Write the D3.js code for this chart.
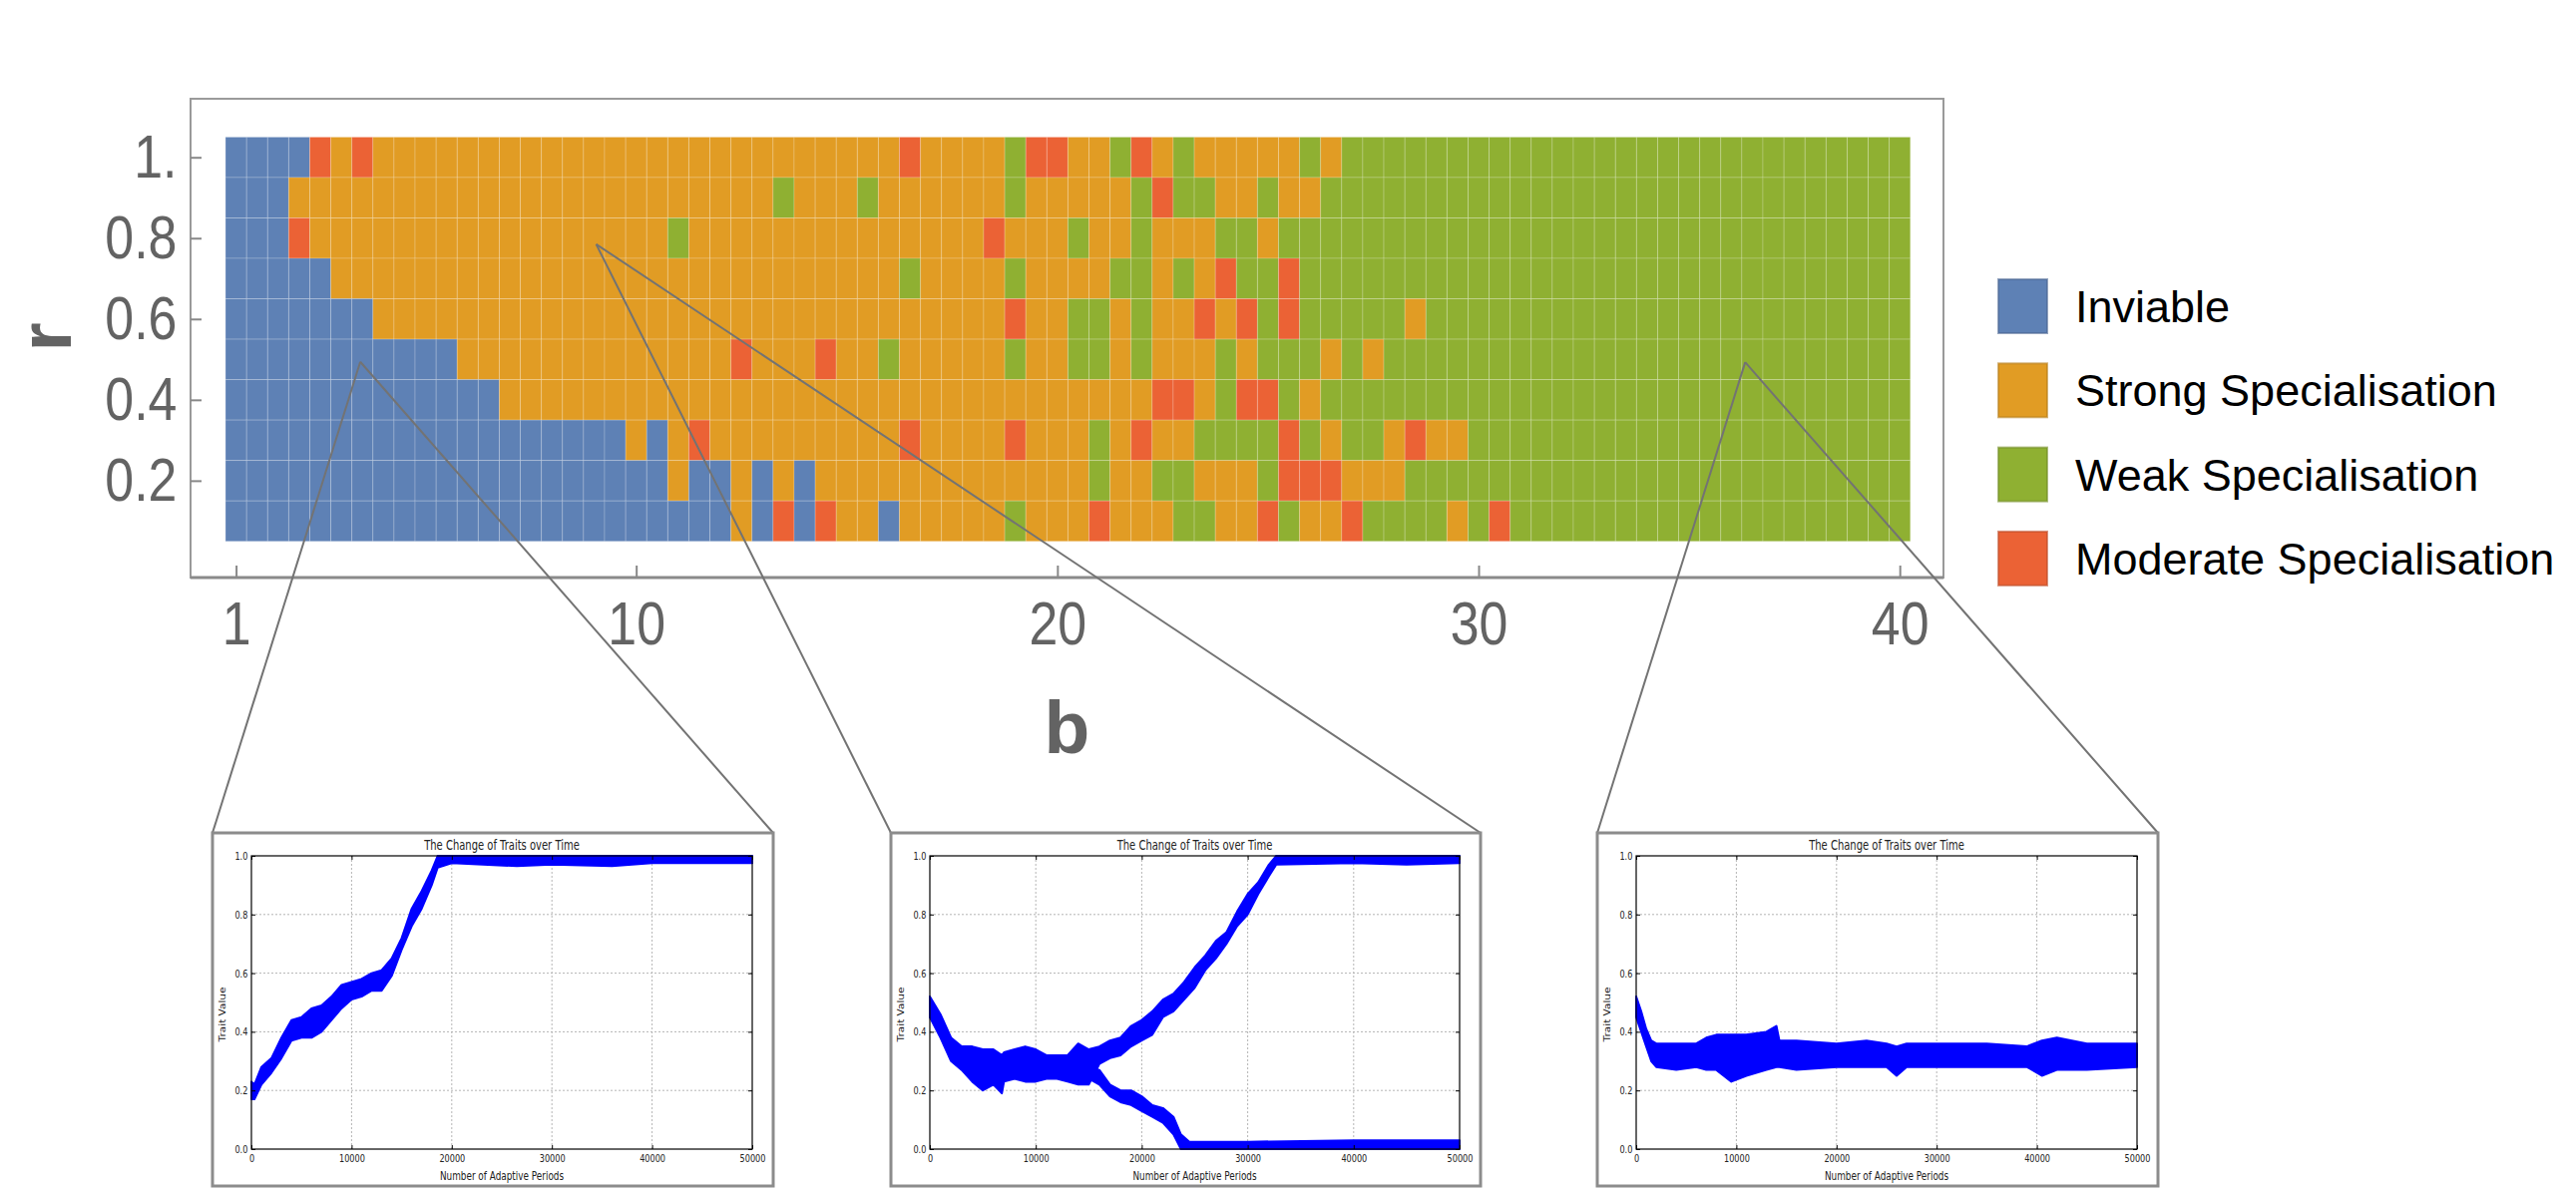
<!DOCTYPE html>
<html>
<head>
<meta charset="utf-8">
<script src="https://cdn.jsdelivr.net/npm/d3@7"></script>
<style>
  body { margin: 0; background: #fff; }
  svg { display: block; }
</style>
</head>
<body>
<svg width="2582" height="1192"></svg>
<script>
// Categories and colours (Mathematica default palette)
var categories = ["Inviable", "Strong Specialisation", "Weak Specialisation", "Moderate Specialisation"];
var codes = ["I", "S", "W", "M"];
var colors = ["#5E81B5", "#E19C24", "#8FB032", "#EB6235"];

// Parameter grid: b in steps of 0.5 up to 40 (80 columns), r from 1.0 down to 0.1
var bMin = 0.5, bMax = 40, nCols = 80;
var rValues = [1.0, 0.9, 0.8, 0.7, 0.6, 0.5, 0.4, 0.3, 0.2, 0.1];

// Outcome per row, run-length encoded (code + run length), read left to right
var gridRows = [
  "I4 M1 S1 M1 S25 M1 S4 W1 M2 S2 W1 M1 S1 W1 S5 W1 S1 W27",
  "I3 S23 W1 S3 W1 S6 W1 S5 W1 M1 W2 S2 W1 S2 W28",
  "I3 M1 S17 W1 S14 M1 S3 W1 S2 W1 S3 W2 S1 W30",
  "I5 S27 W1 S4 W1 S4 W2 S1 W1 S1 M1 W2 M1 W29",
  "I7 S30 M1 S2 W2 S1 W1 S2 M1 S1 M1 W1 M1 W5 S1 W23",
  "I11 S13 M1 S3 M1 S2 W1 S5 W1 S2 W2 S1 W1 S3 W1 S1 W3 S1 W1 S1 W25",
  "I13 S31 M2 S1 W1 M2 W1 S1 W28",
  "I19 S1 I1 S1 M1 S9 M1 S4 M1 S3 W1 S1 M1 S2 W4 M1 W1 S1 W2 S1 M1 S2 W21",
  "I21 S1 I2 S1 I1 S1 I1 S13 W1 S2 W2 S3 W1 M3 S3 W24",
  "I24 S1 I1 M1 I1 M1 S2 I1 S5 W1 S3 M1 S3 W2 S2 M1 W1 S2 M1 W4 S1 W1 M1 W19"
];

// Frame ticks: the first one sits on the first column but is labelled "1"
var bTicks = [0.5, 10, 20, 30, 40];
var bTickLabels = ["1", "10", "20", "30", "40"];
var rTicks = [0.2, 0.4, 0.6, 0.8, 1.0];
var rTickLabels = ["0.2", "0.4", "0.6", "0.8", "1."];

// Points in the (b, r) plane that the three insets zoom in on
var zoomB = [3.45, 9.05, 36.33];
var zoomR = [0.494, 0.785, 0.493];

// Inset time series: trait value bands (lower / upper edge) over adaptive periods
var periodTicks = [0, 10000, 20000, 30000, 40000, 50000];
var traitTicks = [0.0, 0.2, 0.4, 0.6, 0.8, 1.0];

var leftPeriods = [0, 300, 1000, 2000, 3000, 4000, 5000, 6000, 7000, 8000, 9000, 10000, 11000, 12000, 13000, 14000, 15000, 16000, 17000, 18000, 18600, 20000, 26500, 30000, 36000, 40000, 45000, 50000];
var leftUpper   = [0.23, 0.22, 0.28, 0.31, 0.38, 0.44, 0.45, 0.48, 0.49, 0.52, 0.56, 0.57, 0.58, 0.60, 0.61, 0.65, 0.72, 0.82, 0.88, 0.95, 1.0, 1.0, 1.0, 1.0, 1.0, 1.0, 1.0, 1.0];
var leftLower   = [0.17, 0.17, 0.22, 0.26, 0.31, 0.37, 0.38, 0.38, 0.40, 0.44, 0.48, 0.51, 0.52, 0.54, 0.54, 0.59, 0.68, 0.76, 0.82, 0.90, 0.96, 0.975, 0.965, 0.97, 0.965, 0.975, 0.975, 0.975];

var midPeriods = [0, 1000, 2000, 3000, 4000, 5000, 6000, 6800, 7000, 8000, 9000, 10000, 11000, 12000, 13000, 14000, 15000, 16000, 17000, 18000, 19000, 20000, 21000, 22000, 23000, 24000, 25000, 26000, 27000, 28000, 29000, 30000, 31000, 32000, 32700, 40000, 45000, 50000];
var midUpper   = [0.52, 0.46, 0.38, 0.35, 0.35, 0.34, 0.34, 0.32, 0.33, 0.34, 0.35, 0.34, 0.32, 0.32, 0.32, 0.36, 0.34, 0.35, 0.37, 0.38, 0.42, 0.44, 0.47, 0.51, 0.53, 0.57, 0.62, 0.66, 0.71, 0.74, 0.81, 0.87, 0.91, 0.97, 1.0, 1.0, 1.0, 1.0];
var midLower   = [0.45, 0.38, 0.30, 0.27, 0.23, 0.20, 0.22, 0.19, 0.23, 0.24, 0.23, 0.23, 0.24, 0.24, 0.23, 0.22, 0.22, 0.29, 0.31, 0.32, 0.35, 0.37, 0.39, 0.45, 0.47, 0.51, 0.55, 0.61, 0.65, 0.70, 0.76, 0.80, 0.87, 0.93, 0.97, 0.975, 0.97, 0.975];

var mid2Periods = [15000, 16000, 17000, 18000, 19000, 20000, 21000, 22000, 23000, 23700, 24500, 30000, 40000, 50000];
var mid2Upper   = [0.28, 0.27, 0.22, 0.20, 0.20, 0.18, 0.15, 0.14, 0.11, 0.05, 0.025, 0.025, 0.03, 0.03];
var mid2Lower   = [0.24, 0.22, 0.18, 0.16, 0.15, 0.13, 0.11, 0.09, 0.05, 0.0, 0.0, 0.0, 0.0, 0.0];

var rightPeriods = [0, 500, 1000, 1500, 2000, 4000, 6000, 7000, 8000, 9500, 11000, 13000, 14000, 14300, 16000, 20000, 23000, 25000, 26000, 27000, 30000, 35000, 39000, 40500, 42000, 45000, 50000];
var rightUpper   = [0.52, 0.47, 0.41, 0.37, 0.36, 0.36, 0.36, 0.38, 0.39, 0.39, 0.39, 0.40, 0.42, 0.37, 0.37, 0.36, 0.37, 0.36, 0.35, 0.36, 0.36, 0.36, 0.35, 0.37, 0.38, 0.36, 0.36];
var rightLower   = [0.45, 0.40, 0.35, 0.30, 0.28, 0.27, 0.28, 0.27, 0.27, 0.23, 0.25, 0.27, 0.28, 0.28, 0.27, 0.28, 0.28, 0.28, 0.25, 0.28, 0.28, 0.28, 0.28, 0.25, 0.27, 0.27, 0.28];

// The svg
var svg = d3.select("svg"),
  width = +svg.attr("width"),
  height = +svg.attr("height");

svg.append("rect").attr("width", width).attr("height", height).attr("fill", "#fff");

// Scales of the main plot
var bStep = (bMax - bMin) / (nCols - 1);
var bValues = d3.range(nCols).map(function(i) { return bMin + i * bStep; });
var x = d3.scaleLinear().domain([bMin, bMax]).range([236.6, 1904.2]);
var y = d3.scaleLinear().domain([0.1, 1.0]).range([522.4, 157.7]);
var color = d3.scaleOrdinal().domain(codes).range(colors);

function expand(rle) {
  var out = [];
  rle.split(" ").forEach(function(t) {
    var c = t[0], n = +t.slice(1);
    for (var k = 0; k < n; k++) out.push(c);
  });
  return out;
}

var cells = [];
gridRows.forEach(function(row, i) {
  expand(row).forEach(function(c, j) {
    cells.push({ b: bValues[j], r: rValues[i], code: c });
  });
});

// Frame
var frame = { x0: 191, y0: 99, x1: 1948, y1: 579 };
svg.append("rect")
  .attr("x", frame.x0).attr("y", frame.y0)
  .attr("width", frame.x1 - frame.x0).attr("height", frame.y1 - frame.y0)
  .attr("fill", "none").attr("stroke", "#9a9a9a").attr("stroke-width", 2);

// Heatmap cells
svg.append("g")
  .selectAll("rect")
  .data(cells)
  .enter()
  .append("rect")
    .attr("x", function(d) { return x(d.b - bStep / 2); })
    .attr("y", function(d) { return y(d.r + 0.05); })
    .attr("width", function(d) { return x(d.b + bStep / 2) - x(d.b - bStep / 2); })
    .attr("height", function(d) { return y(d.r - 0.05) - y(d.r + 0.05); })
    .attr("fill", function(d) { return color(d.code); })
    .attr("stroke", "rgba(255,255,255,0.2)")
    .attr("stroke-width", 1);

// Axes
var xAxis = svg.append("g")
  .attr("transform", "translate(0," + frame.y1 + ")")
  .call(d3.axisBottom(x).tickValues(bTicks)
    .tickFormat(function(d, i) { return bTickLabels[i]; })
    .tickSizeInner(-12).tickSizeOuter(0).tickPadding(24));

var yAxis = svg.append("g")
  .attr("transform", "translate(" + frame.x0 + ",0)")
  .call(d3.axisLeft(y).tickValues(rTicks)
    .tickFormat(function(d, i) { return rTickLabels[i]; })
    .tickSizeInner(-11).tickSizeOuter(0).tickPadding(16));

[xAxis, yAxis].forEach(function(g) {
  g.select(".domain").remove();
  g.selectAll(".tick line").attr("stroke", "#888").attr("stroke-width", 2);
  g.selectAll(".tick text")
    .attr("fill", "#636363")
    .style("font-family", "'Liberation Sans', Arial, sans-serif")
    .style("font-size", "61px")
    .attr("transform", "scale(0.85,1)");
});

svg.append("line")
  .attr("x1", frame.x0).attr("x2", frame.x1)
  .attr("y1", frame.y1).attr("y2", frame.y1)
  .attr("stroke", "#8a8a8a").attr("stroke-width", 3);

svg.append("text")
  .attr("x", (frame.x0 + frame.x1) / 2)
  .attr("y", 755)
  .attr("text-anchor", "middle")
  .attr("fill", "#636363")
  .style("font-family", "'Liberation Sans', Arial, sans-serif")
  .style("font-weight", "bold")
  .style("font-size", "75px")
  .text("b");

svg.append("text")
  .attr("transform", "translate(71,338) rotate(-90)")
  .attr("text-anchor", "middle")
  .attr("fill", "#636363")
  .style("font-family", "'Liberation Sans', Arial, sans-serif")
  .style("font-weight", "bold")
  .style("font-size", "75px")
  .text("r");

// Legend
var legend = svg.append("g").attr("id", "legend");
var legendEntry = legend.selectAll("g")
  .data(categories)
  .enter().append("g")
  .attr("transform", function(d, i) { return "translate(2003," + (280 + i * 84.3) + ")"; });

legendEntry.append("rect")
  .attr("width", 49).attr("height", 54)
  .attr("fill", function(d, i) { return colors[i]; })
  .attr("stroke", function(d, i) { return d3.color(colors[i]).darker(0.6); })
  .attr("stroke-opacity", 0.6)
  .attr("stroke-width", 2);

legendEntry.append("text")
  .attr("x", 77)
  .attr("y", 43)
  .attr("fill", "#000")
  .style("font-family", "'Liberation Sans', Arial, sans-serif")
  .style("font-size", "45px")
  .text(function(d) { return d; });

// Insets
var insets = [
  { box: [213, 835, 562, 354], series: [[leftPeriods, leftLower, leftUpper]] },
  { box: [893, 835, 591, 354], series: [[midPeriods, midLower, midUpper], [mid2Periods, mid2Lower, mid2Upper]] },
  { box: [1601, 835, 562, 354], series: [[rightPeriods, rightLower, rightUpper]] }
];

var insetFont = "'DejaVu Sans', sans-serif";

insets.forEach(function(inset, k) {
  var bx = inset.box[0], by = inset.box[1], bw = inset.box[2], bh = inset.box[3];

  // connector lines from the point in the heatmap to the inset corners
  var px = x(zoomB[k]), py = y(zoomR[k]);
  [bx, bx + bw].forEach(function(cx) {
    svg.append("line")
      .attr("x1", px).attr("y1", py).attr("x2", cx).attr("y2", by)
      .attr("stroke", "#737373").attr("stroke-width", 2);
  });

  var g = svg.append("g");
  g.append("rect")
    .attr("x", bx).attr("y", by).attr("width", bw).attr("height", bh)
    .attr("fill", "#fff").attr("stroke", "#8c8c8c").attr("stroke-width", 3);

  var ax0 = bx + 39, ax1 = bx + bw - 21, ay0 = by + 23, ay1 = by + bh - 37;
  var ix = d3.scaleLinear().domain([0, 50000]).range([ax0, ax1]);
  var iy = d3.scaleLinear().domain([0, 1]).range([ay1, ay0]);

  // dashed grid
  g.append("g").selectAll("line")
    .data(periodTicks.slice(1, -1)).enter().append("line")
    .attr("x1", function(d) { return ix(d); }).attr("x2", function(d) { return ix(d); })
    .attr("y1", ay0).attr("y2", ay1)
    .attr("stroke", "#b5b5b5").attr("stroke-dasharray", "2,2");
  g.append("g").selectAll("line")
    .data(traitTicks.slice(1, -1)).enter().append("line")
    .attr("y1", function(d) { return iy(d); }).attr("y2", function(d) { return iy(d); })
    .attr("x1", ax0).attr("x2", ax1)
    .attr("stroke", "#b5b5b5").attr("stroke-dasharray", "2,2");

  // trait bands
  inset.series.forEach(function(s) {
    var pts = s[0].map(function(p, i) { return { p: p, lo: s[1][i], hi: s[2][i] }; });
    g.append("path")
      .datum(pts)
      .attr("fill", "#0000ff")
      .attr("stroke", "#0000ff")
      .attr("stroke-width", 2)
      .attr("stroke-linejoin", "round")
      .attr("d", d3.area()
        .x(function(d) { return ix(d.p); })
        .y0(function(d) { return iy(d.lo); })
        .y1(function(d) { return iy(d.hi); }));
  });

  // axes
  var gx = g.append("g").attr("transform", "translate(0," + ay1 + ")")
    .call(d3.axisBottom(ix).tickValues(periodTicks).tickFormat(d3.format("d"))
      .tickSizeInner(-4).tickSizeOuter(0).tickPadding(5));
  var gy = g.append("g").attr("transform", "translate(" + ax0 + ",0)")
    .call(d3.axisLeft(iy).tickValues(traitTicks).tickFormat(d3.format(".1f"))
      .tickSizeInner(-4).tickSizeOuter(0).tickPadding(5));
  var gt = g.append("g").attr("transform", "translate(0," + ay0 + ")")
    .call(d3.axisTop(ix).tickValues(periodTicks).tickFormat("").tickSizeInner(-4).tickSizeOuter(0));
  var gr = g.append("g").attr("transform", "translate(" + ax1 + ",0)")
    .call(d3.axisRight(iy).tickValues(traitTicks).tickFormat("").tickSizeInner(-4).tickSizeOuter(0));
  [gx, gy, gt, gr].forEach(function(a) {
    a.select(".domain").remove();
    a.selectAll(".tick line").attr("stroke", "#000");
    a.selectAll(".tick text")
      .attr("fill", "#222")
      .style("font-family", insetFont)
      .style("font-size", "11px")
      .attr("transform", "scale(0.74,1)");
  });

  g.append("rect")
    .attr("x", ax0).attr("y", ay0).attr("width", ax1 - ax0).attr("height", ay1 - ay0)
    .attr("fill", "none").attr("stroke", "#000").attr("stroke-width", 1.2);

  // title and labels
  g.append("text")
    .attr("transform", "translate(" + ((ax0 + ax1) / 2) + "," + (ay0 - 6) + ") scale(0.74,1)")
    .attr("text-anchor", "middle")
    .attr("fill", "#222")
    .style("font-family", insetFont).style("font-size", "13.5px")
    .text("The Change of Traits over Time");
  g.append("text")
    .attr("transform", "translate(" + ((ax0 + ax1) / 2) + "," + (ay1 + 31) + ") scale(0.74,1)")
    .attr("text-anchor", "middle")
    .attr("fill", "#222")
    .style("font-family", insetFont).style("font-size", "12px")
    .text("Number of Adaptive Periods");
  g.append("text")
    .attr("transform", "translate(" + (bx + 13) + "," + ((ay0 + ay1) / 2 + 12) + ") rotate(-90) scale(1,0.8)")
    .attr("text-anchor", "middle")
    .attr("fill", "#222")
    .style("font-family", insetFont).style("font-size", "10.5px")
    .text("Trait Value");
});
</script>
</body>
</html>
